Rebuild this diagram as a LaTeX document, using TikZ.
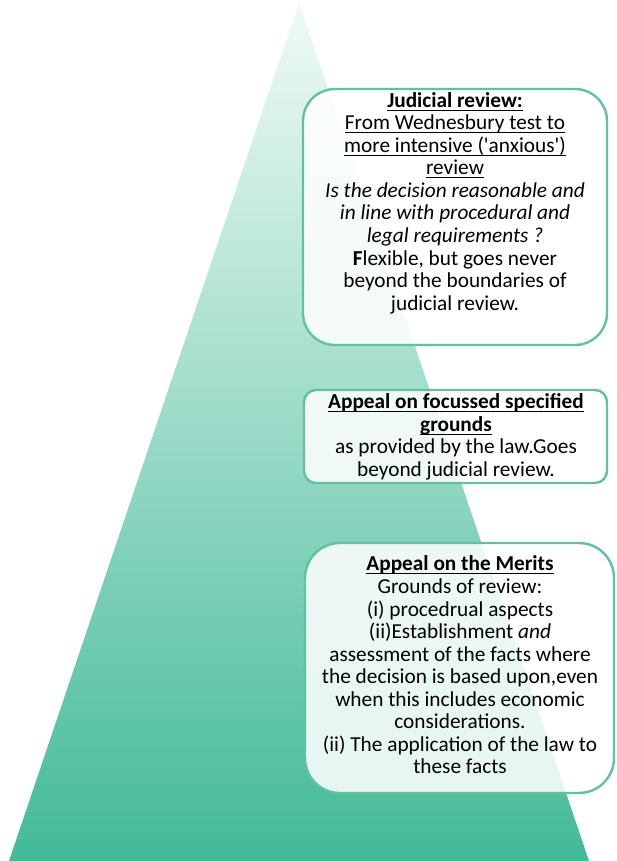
\documentclass[tikz,border=0pt]{standalone}
\usepackage{fontspec}
\setmainfont{Carlito}
\definecolor{trtop}{RGB}{240,250,247}
\definecolor{trbot}{RGB}{67,186,152}
\definecolor{boxline}{RGB}{98,194,158}
\newcommand\myul[1]{\underline{\raisebox{0pt}[\height][1.2pt]{#1}}}
\begin{document}
\begin{tikzpicture}[x=1pt,y=-1pt,
  box/.style={draw=boxline, line width=2.4pt, fill=white, fill opacity=0.86, draw opacity=1, inner sep=0pt},
  txt/.style={align=center, font=\fontsize{21.3}{22.55}\selectfont, inner sep=0pt}]
\useasboundingbox (0,0) rectangle (616,861);
\shade[top color=trtop, bottom color=trbot] (299,3) -- (589,861) -- (9,861) -- cycle;

\node[box, rounded corners=32pt, minimum width=304pt, minimum height=256pt] (b1) at (455,217) {};
\node[txt] (t1) at (455,203) {\myul{\textbf{Judicial review:}}\\
\myul{From Wednesbury test to}\\
\myul{more intensive (\textquotesingle anxious\textquotesingle)}\\
\myul{review}\\
\textit{Is the decision reasonable and}\\
\textit{in line with procedural and}\\
\textit{legal requirements ?}\\
\textbf{F}lexible, but goes never\\
beyond the boundaries of\\
judicial review.};

\node[box, rounded corners=12pt, minimum width=303pt, minimum height=93pt] (b2) at (455.5,436.5) {};
\node[txt] (t2) at (456,437) {\myul{\textbf{Appeal on focussed specified}}\\
\myul{\textbf{grounds}}\\
as provided by the law.Goes\\
beyond judicial review.};

\node[box, rounded corners=35pt, minimum width=309pt, minimum height=250pt] (b3) at (459.5,668) {};
\node[txt] (t3) at (460,665) {\myul{\textbf{Appeal on the Merits}}\\
Grounds of review:\\
(i) procedrual aspects\\
(ii)Establishment \textit{and}\\
assessment of the facts where\\
the decision is based upon,even\\
when this includes economic\\
considerations.\\
(ii) The application of the law to\\
these facts};
\end{tikzpicture}
\end{document}
